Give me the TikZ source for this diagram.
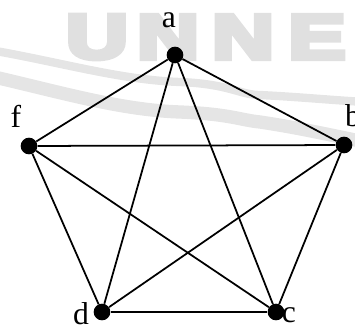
\documentclass[tikz,border=0pt]{standalone}
\usepackage{fontspec}
\setmainfont{Liberation Serif}
\newfontfamily\wmfont{Liberation Sans}
\usetikzlibrary{positioning}
\newcommand{\heavy}[1]{\special{pdf:literal direct 2 Tr 4 w}#1\special{pdf:literal direct 0 Tr 1 w}}

\begin{document}
\begin{tikzpicture}[
    x=0.03cm, y=-0.03cm,
    vertex/.style={
        circle,
        fill=black,
        inner sep=0pt,
        minimum size=0.5cm
    },
    vlabel/.style={
        font=\fontsize{27}{30}\selectfont,
        inner sep=0pt
    },
    edge/.style={line width=1.5pt},
    wm/.style={
        text=black!12,
        font=\wmfont\bfseries\fontsize{54}{56}\selectfont,
        xscale=1.35,
        inner sep=0pt
    },
    wave/.style={black!10, line cap=round}
]
\useasboundingbox (0,0) rectangle (355,328);

% watermark
\draw[wave, line width=0.25cm]
    (-10,50) .. controls (60,62) and (120,80) .. (180,82)
    .. controls (230,84) and (240,95) .. (260,95)
    .. controls (300,97) and (330,100) .. (365,102);
\draw[wave, line width=0.4cm]
    (-10,76) .. controls (60,92) and (120,110) .. (180,112)
    .. controls (230,114) and (240,120) .. (260,122)
    .. controls (300,128) and (330,135) .. (365,142);
\node[wm] (wmu) at (97,37) {\heavy{U}};
\node[wm] (wmn1) at (168,37) {\heavy{N}};
\node[wm] (wmn2) at (243,37) {\heavy{N}};
\node[wm] (wme) at (317,37) {\heavy{E}};

% vertices
\node[vertex] (a) at (175,55) {};
\node[vertex] (b) at (344,145) {};
\node[vertex] (c) at (276,312) {};
\node[vertex] (d) at (102,312) {};
\node[vertex] (f) at (29,146) {};

% labels
\node[vlabel] (la) at (169,20) {a};
\node[vlabel] (lb) at (353,116) {b};
\node[vlabel] (lc) at (289,315) {c};
\node[vlabel] (ld) at (81,314) {d};
\node[vlabel] (lf) at (16,116) {f};

% edges
\foreach \u/\v in {a/b,a/c,a/d,a/f,b/c,b/d,b/f,c/d,c/f,d/f}
    \draw[edge] (\u) -- (\v);

\end{tikzpicture}
\end{document}
